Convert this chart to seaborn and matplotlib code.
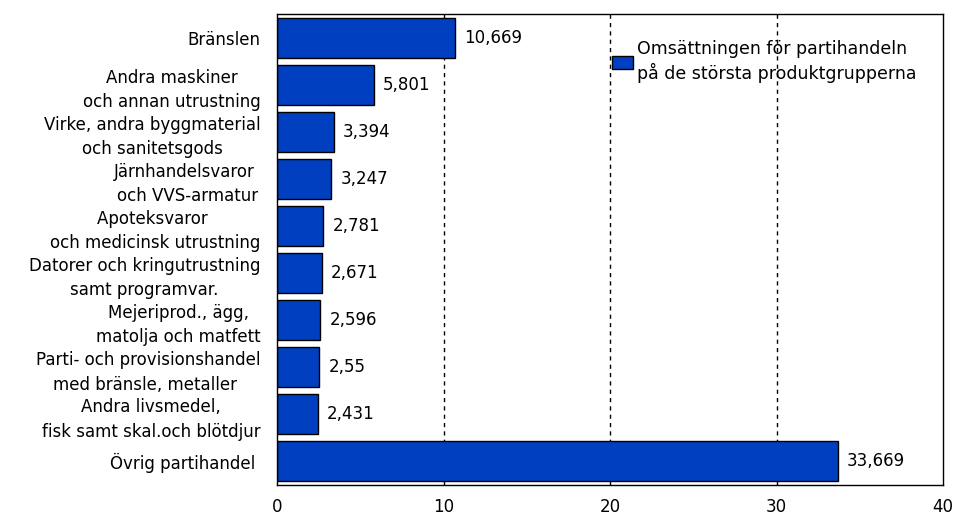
import pandas as pd
import matplotlib.pyplot as plt
import seaborn as sns

# --- Data ---
categories = [
    'Bränslen',
    'Andra maskiner\noch annan utrustning',
    'Virke, andra byggmaterial\noch sanitetsgods',
    'Järnhandelsvaror \noch VVS-armatur',
    'Apoteksvaror \noch medicinsk utrustning',
    'Datorer och kringutrustning\nsamt programvar.',
    'Mejeriprod., ägg,\nmatolja och matfett',
    'Parti- och provisionshandel\nmed bränsle, metaller ',
    'Andra livsmedel,\nfisk samt skal.och blötdjur',
    'Övrig partihandel ',
]
values = [10.669, 5.801, 3.394, 3.247, 2.781, 2.671, 2.596, 2.55, 2.431, 33.669]
value_labels = ['10,669', '5,801', '3,394', '3,247', '2,781', '2,671', '2,596', '2,55', '2,431', '33,669']
xticks = [0, 10, 20, 30, 40]
legend_label = 'Omsättningen för partihandeln\npå de största produktgrupperna'

df = pd.DataFrame({'Kategori': categories, 'Värde': values})

sns.set_theme(style="white")
plt.rcParams['font.family'] = ['DejaVu Sans']
plt.rcParams['text.color'] = 'black'
plt.rcParams['xtick.color'] = 'black'
plt.rcParams['ytick.color'] = 'black'

fig = plt.figure(figsize=(9.54, 5.14), dpi=100)
ax = fig.add_axes([0.2904, 0.0564, 0.6981, 0.9164])

sns.barplot(data=df, x='Värde', y='Kategori', orient='h', color='#0040C0',
            edgecolor='black', linewidth=1, width=0.85, saturation=1,
            label=legend_label, ax=ax)

# Value labels to the right of each bar
for i, (v, lab) in enumerate(zip(values, value_labels)):
    ax.text(v + 0.55, i, lab, va='center', ha='left', fontsize=12, color='black')

ax.set_xlim(0, 40)
ax.set_ylim(9.5, -0.5)
ax.set_xticks(xticks)
ax.set_xticklabels([str(t) for t in xticks], fontsize=12)
ax.tick_params(axis='x', length=4, direction='in', pad=9)
ax.tick_params(axis='y', length=0, pad=12)
for lab in ax.get_yticklabels():
    lab.set_fontsize(12)
    lab.set_multialignment('center')
    lab.set_linespacing(1.45)
ax.set_xlabel('')
ax.set_ylabel('')

# Dashed vertical grid lines
for t in xticks[1:-1]:
    ax.axvline(t, color='black', linestyle=(0, (3, 3)), linewidth=1, zorder=0)

for s in ax.spines.values():
    s.set_color('black')
    s.set_linewidth(1)

leg = ax.legend(loc='upper left', bbox_to_anchor=(0.485, 0.97), frameon=False,
                fontsize=12.5, handlelength=1.2, handleheight=0.8,
                handletextpad=0.2, borderpad=0.2)
for t in leg.get_texts():
    t.set_linespacing(1.3)

plt.savefig("out.png", dpi=100)
